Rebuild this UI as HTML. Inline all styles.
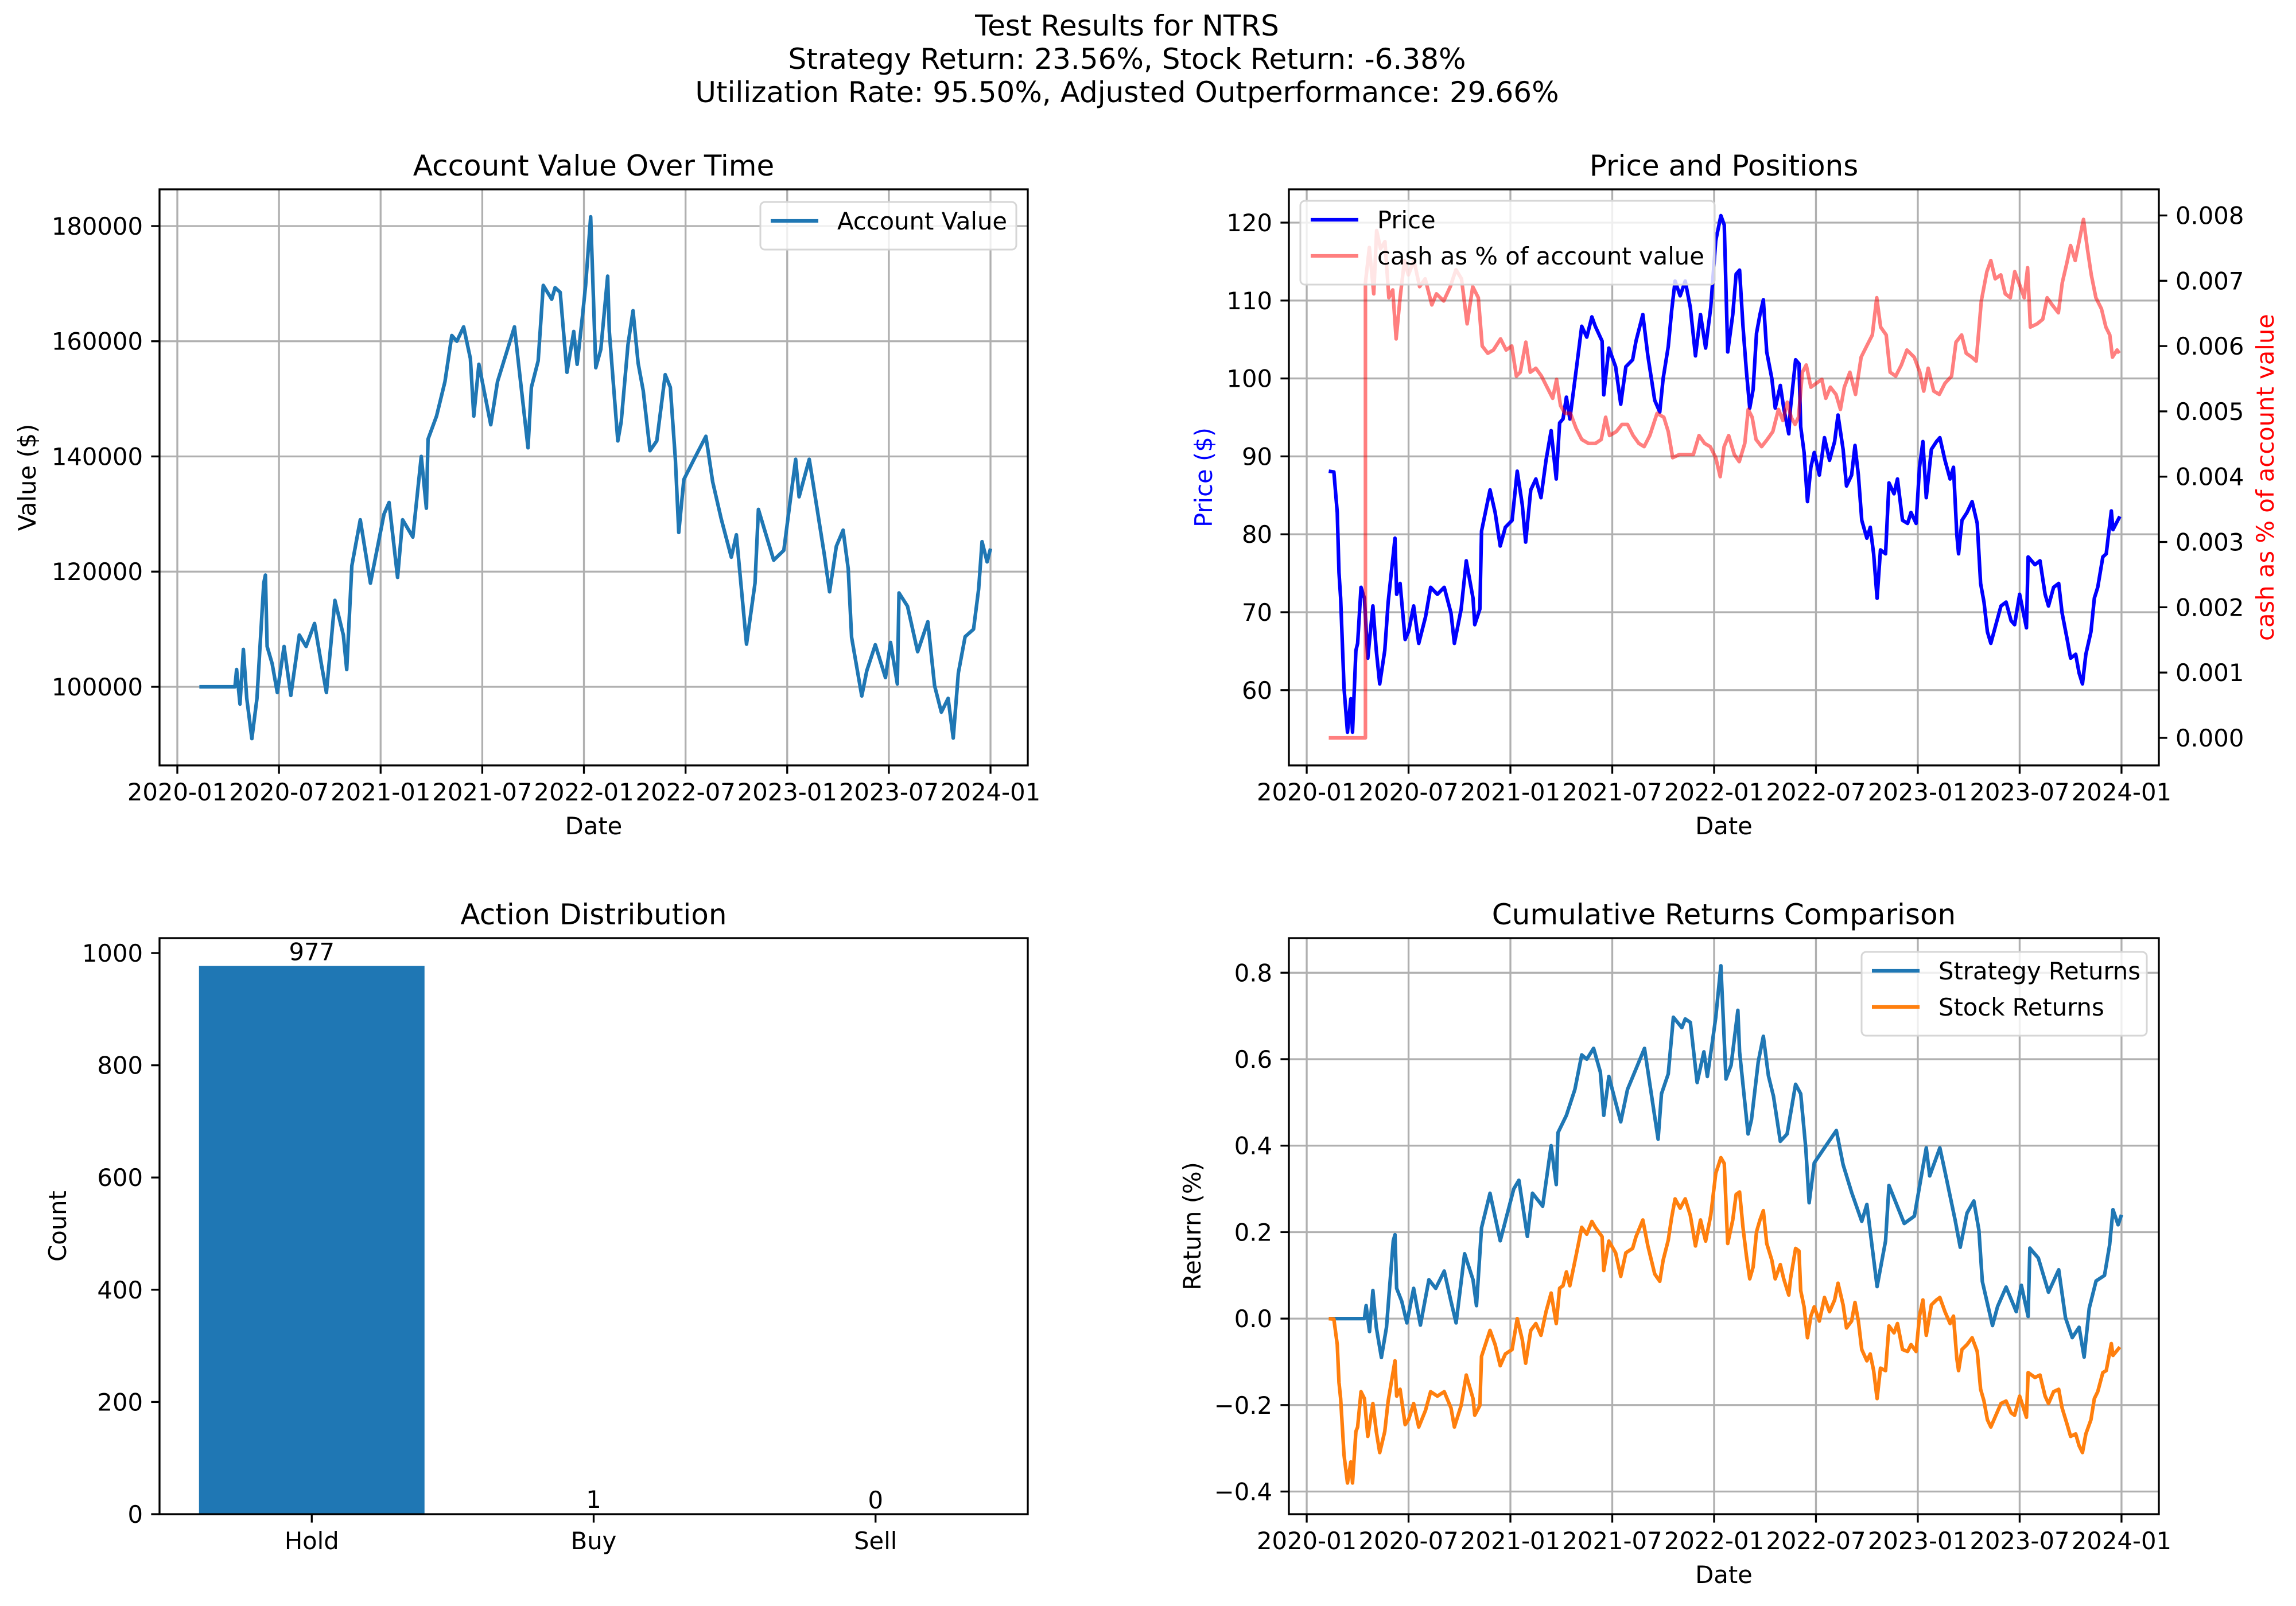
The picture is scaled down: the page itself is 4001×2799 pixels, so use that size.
<!DOCTYPE html>
<html><head><meta charset="utf-8"><title>Test Results for NTRS</title>
<style>html,body{margin:0;padding:0;background:#fff}svg{display:block}text{font-family:"DejaVu Sans","Liberation Sans",sans-serif}</style>
</head><body>
<svg id="fig" xmlns="http://www.w3.org/2000/svg" width="4001" height="2799" viewBox="0 0 4001 2799">
<rect x="0" y="0" width="4001" height="2799" fill="#fff"/>
<g font-size="50" text-anchor="middle" fill="#000">
<text x="1964" y="62">Test Results for NTRS</text>
<text x="1964" y="120">Strategy Return: 23.56%, Stock Return: -6.38%</text>
<text x="1964" y="178">Utilization Rate: 95.50%, Adjusted Outperformance: 29.66%</text>
</g>
</svg>
<script>
// ---- data (months since 2020-01) ----
const acctDates=[1.3,3.4,3.5,3.7,3.9,4.1,4.4,4.7,5.1,5.2,5.3,5.6,5.9,6.3,6.7,7.2,7.6,8.1,8.5,8.8,9.3,9.8,10.0,10.3,10.8,11.4,12.2,12.5,13.0,13.3,13.9,14.4,14.7,14.8,15.3,15.8,16.2,16.5,16.9,17.3,17.5,17.8,18.5,18.9,19.9,20.2,20.7,20.9,21.3,21.6,22.1,22.3,22.6,23.0,23.4,23.6,23.9,24.1,24.4,24.7,25.0,25.4,25.5,26.0,26.2,26.6,26.9,27.2,27.5,27.9,28.3,28.8,29.1,29.4,29.6,29.9,30.5,31.2,31.6,32.1,32.7,33.0,33.6,34.1,34.3,35.2,35.8,36.2,36.5,36.7,37.3,37.6,38.2,38.5,38.9,39.3,39.6,39.8,40.4,40.7,41.2,41.8,42.1,42.5,42.6,43.1,43.7,44.3,44.7,45.1,45.5,45.8,46.1,46.5,47.0,47.3,47.5,47.8,48.0];
const acctValues=[100000,100000,103000,97000,106500,98000,91000,98000,118000,119400,107000,104000,99000,107000,98500,109000,107000,111000,104000,99000,115000,109000,103000,121000,129000,118000,130000,132000,119000,129000,126000,140000,131000,143000,147000,153000,161000,160000,162500,157000,147000,156000,145500,153000,162500,154600,141500,152000,156600,169700,167300,169300,168500,154600,161700,156000,164000,169700,181600,155400,158600,171300,161700,142700,146000,159400,165300,156200,151400,141000,142700,154200,152000,139500,126800,136000,139500,143500,135600,129200,122500,126400,107400,118000,130800,122000,123700,132800,139500,133000,139500,134000,122800,116500,124400,127200,120500,108600,98400,102800,107300,101600,107700,100500,116300,114000,106100,111300,100200,95600,98000,91100,102400,108700,110000,117000,125200,121700,124000];
const priceDates=[1.3,1.6,1.8,1.9,2.0,2.2,2.4,2.6,2.7,2.9,3.0,3.2,3.4,3.6,3.9,4.1,4.3,4.6,4.8,5.2,5.3,5.5,5.8,6.0,6.3,6.6,7.0,7.3,7.7,8.1,8.5,8.7,9.1,9.4,9.8,9.9,10.2,10.3,10.8,11.1,11.4,11.7,12.1,12.4,12.7,12.9,13.2,13.5,13.8,14.1,14.4,14.7,14.9,15.1,15.3,15.5,15.9,16.2,16.5,16.8,17.0,17.4,17.5,17.8,18.2,18.5,18.8,19.2,19.4,19.8,20.1,20.5,20.8,21.0,21.3,21.5,21.7,22.0,22.3,22.6,22.9,23.2,23.5,23.8,24.1,24.4,24.6,24.8,25.1,25.3,25.5,25.7,25.9,26.1,26.3,26.5,26.7,26.9,27.1,27.4,27.6,27.9,28.1,28.4,28.5,28.8,29.0,29.1,29.3,29.5,29.7,29.9,30.2,30.5,30.8,31.1,31.3,31.6,31.8,32.1,32.3,32.5,32.7,33.0,33.2,33.4,33.6,33.8,34.1,34.3,34.6,34.8,35.1,35.4,35.6,35.9,36.1,36.3,36.5,36.8,37.1,37.3,37.6,37.9,38.1,38.3,38.4,38.6,38.9,39.2,39.5,39.7,39.9,40.1,40.3,40.6,40.9,41.2,41.5,41.7,42.0,42.4,42.5,42.9,43.2,43.5,43.7,44.0,44.3,44.5,44.8,45.0,45.3,45.5,45.7,45.9,46.2,46.4,46.6,46.9,47.1,47.4,47.5,47.9];
const priceValues=[88.1,88,82.8,75.1,71.8,60.3,54.6,58.9,54.6,65.1,66,73.2,71.8,64.1,70.8,65.1,60.8,65.1,71.3,79.5,72.3,73.7,66.5,67.5,70.8,66,69.4,73.2,72.3,73.2,69.9,66,70.4,76.6,71.8,68.4,70.4,80.4,85.7,82.8,78.5,80.9,81.8,88.1,83.8,79,85.7,87.1,84.7,89.5,93.3,87.1,94.3,94.8,97.6,94.8,101.5,106.7,105.3,107.9,106.7,104.8,97.9,103.9,101.5,96.7,101.5,102.4,104.8,108.2,102.9,97.2,95.7,100,104.1,108.7,112.5,110.6,112.5,109.1,102.9,108.2,103.9,109.1,117.7,120.9,119.7,103.4,108.2,113.4,113.9,106.7,101,96.2,98.6,105.8,108.2,110.1,103.4,100,96.2,99.1,96.2,92.9,96.2,102.4,101.9,93.8,90.5,84.2,88.6,90.5,87.6,92.4,89.5,91.9,95.3,90.9,86.2,87.6,91.4,87.6,81.8,79.5,80.9,77.5,71.8,78,77.5,86.6,85.2,87.1,81.8,81.4,82.8,81.4,88.6,91.9,84.7,90.9,91.9,92.4,89.5,87.1,88.6,79.9,77.5,81.8,82.8,84.2,81.4,73.7,71.3,67.5,66,68.4,70.8,71.3,68.9,68.4,72.3,68,77.1,76.1,76.6,72.3,70.8,73.2,73.7,69.9,66.5,64.1,64.6,62.2,60.8,64.6,67.5,71.8,73.2,77.1,77.5,83,80.6,82.3];
const cashDates=[1.3,3.46,3.46,3.69,3.95,4.12,4.35,4.61,4.84,5.07,5.27,5.50,5.76,5.99,6.32,6.65,6.98,7.37,7.64,8.07,8.46,8.79,9.12,9.45,9.78,10.11,10.34,10.67,11.00,11.42,11.75,12.08,12.35,12.58,12.91,13.17,13.50,13.83,14.16,14.49,14.72,14.95,15.21,15.54,15.87,16.20,16.59,17.02,17.35,17.61,17.84,18.24,18.57,18.90,19.23,19.56,19.88,20.21,20.64,21.04,21.30,21.56,21.96,22.39,22.78,23.11,23.44,23.77,24.10,24.36,24.59,24.86,25.19,25.48,25.81,26.01,26.24,26.47,26.80,27.13,27.46,27.79,28.05,28.31,28.54,28.77,28.97,29.20,29.43,29.70,30.02,30.35,30.58,30.85,31.18,31.44,31.67,32.00,32.33,32.66,32.99,33.32,33.58,33.81,34.14,34.37,34.70,35.03,35.36,35.79,36.12,36.35,36.61,36.94,37.27,37.60,37.99,38.25,38.58,38.85,39.18,39.44,39.74,40.07,40.30,40.56,40.89,41.15,41.45,41.71,42.04,42.27,42.47,42.63,43.03,43.36,43.62,43.92,44.28,44.51,44.77,45.00,45.27,45.50,45.76,45.99,46.22,46.49,46.82,47.08,47.31,47.47,47.74,47.87];
const cashValues=[0,0,.00697,.00751,.0068,.00777,.00749,.0076,.00674,.00686,.00611,.00674,.00731,.00709,.00731,.00691,.00703,.00663,.0068,.00669,.00691,.00717,.00703,.00634,.00691,.00674,.006,.00589,.00594,.00611,.00594,.006,.00554,.0056,.00606,.0056,.00566,.00554,.00537,.0052,.00549,.00509,.00497,.00497,.00474,.00457,.00451,.00451,.00457,.00491,.00463,.00469,.0048,.0048,.00463,.00451,.00446,.00463,.00497,.00491,.00469,.00429,.00434,.00434,.00434,.00463,.00451,.00446,.00429,.004,.00446,.00463,.00434,.00423,.00451,.00503,.00491,.00457,.00446,.00457,.00469,.00503,.00486,.00514,.00491,.0048,.00491,.0056,.00571,.00537,.00543,.00549,.0052,.00537,.00526,.00503,.00537,.0056,.00526,.00583,.006,.00617,.00674,.00629,.00617,.0056,.00554,.00571,.00594,.00583,.0056,.00531,.00566,.00531,.00526,.00543,.00554,.00606,.00617,.00589,.00583,.00577,.00669,.00714,.00731,.00703,.00709,.0068,.00674,.00714,.00691,.00674,.0072,.00629,.00634,.00641,.00674,.00663,.00651,.00697,.00726,.00754,.00731,.0076,.00794,.00749,.00709,.00674,.00657,.00629,.00617,.00583,.00594,.00589];
const strategyReturns=acctValues.map(v=>v/100000-1);
const stockReturns=priceValues.map(p=>p/priceValues[0]-1);
const actionCategories=["Hold","Buy","Sell"];
const actionCounts=[977,1,0];
const dateTickMonths=[0,6,12,18,24,30,36,42,48];
const dateTickLabels=["2020-01","2020-07","2021-01","2021-07","2022-01","2022-07","2023-01","2023-07","2024-01"];
const acctTicks=[100000,120000,140000,160000,180000];
const priceTicks=[60,70,80,90,100,110,120];
const cashTicks=[0,0.001,0.002,0.003,0.004,0.005,0.006,0.007,0.008];
const returnTicks=[-0.4,-0.2,0,0.2,0.4,0.6,0.8];
const countTicks=[0,200,400,600,800,1000];

const NS="http://www.w3.org/2000/svg";
const svg=document.getElementById('fig');
const FS=41.7, LW=6.25, GW=3.33, TL=14.6;
function mk(tag,attrs,parent,txt){const e=document.createElementNS(NS,tag);for(const k in attrs)e.setAttribute(k,attrs[k]);if(txt!==undefined)e.textContent=txt;(parent||svg).appendChild(e);return e;}
function lin(d0,d1,p0,p1){return v=>p0+(v-d0)/(d1-d0)*(p1-p0);}
function fmtMinus(s){return s.replace('-','\u2212');}

function panel(name,L,T,R,B,title){
  const g=mk('g',{});
  
  
  const t=mk('text',{x:(L+R)/2,y:T-24,'font-size':50,'text-anchor':'middle'},g,title);
  
  
  return g;
}
function frame(g,name,L,T,R,B){
  const r=mk('rect',{x:L,y:T,width:R-L,height:B-T,fill:'none',stroke:'#000','stroke-width':GW},g);
  
  
}
function xDateAxis(g,name,xs,L,T,R,B,grid){
  dateTickMonths.forEach((m,i)=>{
    const x=xs(m);
    if(grid){const gl=mk('line',{x1:x,x2:x,y1:T,y2:B,stroke:'#b0b0b0','stroke-width':GW},g);
      
      }
    const tk=mk('line',{x1:x,x2:x,y1:B,y2:B+TL,stroke:'#000','stroke-width':GW},g);
    
    
    const lb=mk('text',{x:x,y:B+61,'font-size':FS,'text-anchor':'middle'},g,dateTickLabels[i]);
    
    
  });
  const xl=mk('text',{x:(L+R)/2,y:B+120,'font-size':FS,'text-anchor':'middle'},g,'Date');
  
  
}
function yAxis(g,name,ys,ticks,labels,L,R,side,grid,color){
  ticks.forEach((v,i)=>{
    const y=ys(v);
    if(grid){const gl=mk('line',{x1:L,x2:R,y1:y,y2:y,stroke:'#b0b0b0','stroke-width':GW},g);
      
      }
    const xe=side==='left'?L:R, dir=side==='left'?-1:1;
    const tk=mk('line',{x1:xe,x2:xe+dir*TL,y1:y,y2:y,stroke:'#000','stroke-width':GW},g);
    
    
    const lb=mk('text',{x:xe+dir*29,y:y+15,'font-size':FS,'text-anchor':side==='left'?'end':'start',fill:color||'#000'},g,labels[i]);
    
    
  });
}
function yTitle(g,name,x,yc,txt,color){
  const t=mk('text',{x:x,y:yc,'font-size':FS,'text-anchor':'middle',fill:color||'#000',transform:`rotate(-90 ${x} ${yc})`},g,txt);
  
  
}
function series(g,name,xs,ys,dates,vals,color,op){
  const d=dates.map((m,i)=>(i?'L':'M')+xs(m).toFixed(1)+','+ys(vals[i]).toFixed(1)).join('');
  const p=mk('path',{d:d,fill:'none',stroke:color,'stroke-width':LW,'stroke-linejoin':'round','stroke-opacity':op||1},g);
  
  
}
function legend(g,name,x,y,w,entries){
  const h=20+entries.length*63;
  const lg=mk('g',{},g);
  
  
  mk('rect',{x:x,y:y,width:w,height:h,rx:8,fill:'#fff','fill-opacity':0.8,stroke:'#d6d6d6','stroke-width':3},lg);
  entries.forEach((e,i)=>{
    const cy=y+33+i*63;
    const ln=mk('line',{x1:x+18,x2:x+101,y1:cy,y2:cy,stroke:e[1],'stroke-width':LW,'stroke-opacity':e[2]||1},lg);
    
    
    const tx=mk('text',{x:x+134,y:cy+15,'font-size':FS},lg,e[0]);
    
    
  });
}
const XMIN=-1.05, XMAX=50.2;

// ---- Panel 1: Account value ----
(function(){
  const L=278,T=330,R=1791,B=1334;
  const g=panel('account-value-chart',L,T,R,B,'Account Value Over Time');
  const xs=lin(XMIN,XMAX,L,R), ys=lin(86350,186376,B,T);
  xDateAxis(g,'account-value',xs,L,T,R,B,true);
  yAxis(g,'account-value',ys,acctTicks,acctTicks.map(String),L,R,'left',true);
  series(g,'account-value-line',xs,ys,acctDates,acctValues,'#1f77b4');
  frame(g,'account-value',L,T,R,B);
  yTitle(g,'account-value-y-axis-title',62,(T+B)/2,'Value ($)');
  legend(g,'account-value-legend',1325,352,446,[['Account Value','#1f77b4']]);
})();

// ---- Panel 2: Price and positions ----
(function(){
  const L=2246,T=330,R=3762,B=1334;
  const g=panel('price-positions-chart',L,T,R,B,'Price and Positions');
  const xs=lin(XMIN,XMAX,L,R), ys=lin(50.34,124.27,B,T), yc=lin(-0.000422,0.0084,B,T);
  xDateAxis(g,'price-positions',xs,L,T,R,B,true);
  yAxis(g,'price',ys,priceTicks,priceTicks.map(String),L,R,'left',true);
  yAxis(g,'cash',yc,cashTicks,cashTicks.map(v=>v.toFixed(3)),L,R,'right',false);
  series(g,'price-line',xs,ys,priceDates,priceValues,'#0000ff');
  series(g,'cash-line',xs,yc,cashDates,cashValues,'#ff0000',0.5);
  frame(g,'price-positions',L,T,R,B);
  yTitle(g,'price-y-axis-title',2112,(T+B)/2,'Price ($)','#0000ff');
  yTitle(g,'cash-y-axis-title',3962,(T+B)/2,'cash as % of account value','#ff0000');
  legend(g,'price-positions-legend',2266,350,722,[['Price','#0000ff'],['cash as % of account value','#ff0000',0.5]]);
})();

// ---- Panel 3: Action distribution ----
(function(){
  const L=278,T=1635,R=1791,B=2639;
  const g=panel('action-distribution-chart',L,T,R,B,'Action Distribution');
  const xs=lin(-0.54,2.54,L,R), ys=lin(0,1026.6,B,T);
  yAxis(g,'action-count',ys,countTicks,countTicks.map(String),L,R,'left',false);
  actionCategories.forEach((c,i)=>{
    const x0=xs(i-0.4), x1=xs(i+0.4), y=ys(actionCounts[i]);
    const b=mk('rect',{x:x0,y:y,width:x1-x0,height:B-y,fill:'#1f77b4'},g);
    
    
    const v=mk('text',{x:xs(i),y:y-10,'font-size':FS,'text-anchor':'middle'},g,String(actionCounts[i]));
    
    
    const tk=mk('line',{x1:xs(i),x2:xs(i),y1:B,y2:B+TL,stroke:'#000','stroke-width':GW},g);
    
    
    const lb=mk('text',{x:xs(i),y:B+61,'font-size':FS,'text-anchor':'middle'},g,c);
    
    
  });
  frame(g,'action-distribution',L,T,R,B);
  yTitle(g,'action-count-y-axis-title',115,(T+B)/2,'Count');
})();

// ---- Panel 4: Cumulative returns ----
(function(){
  const L=2246,T=1635,R=3762,B=2639;
  const g=panel('cumulative-returns-chart',L,T,R,B,'Cumulative Returns Comparison');
  const xs=lin(XMIN,XMAX,L,R), ys=lin(-0.4524,0.88,B,T);
  xDateAxis(g,'returns',xs,L,T,R,B,true);
  yAxis(g,'returns',ys,returnTicks,returnTicks.map(v=>fmtMinus(v.toFixed(1))),L,R,'left',true);
  series(g,'strategy-returns-line',xs,ys,acctDates,strategyReturns,'#1f77b4');
  series(g,'stock-returns-line',xs,ys,priceDates,stockReturns,'#ff7f0e');
  frame(g,'returns',L,T,R,B);
  yTitle(g,'returns-y-axis-title',2092,(T+B)/2,'Return (%)');
  legend(g,'returns-legend',3244,1659,497,[['Strategy Returns','#1f77b4'],['Stock Returns','#ff7f0e']]);
})();
</script>
</body></html>
